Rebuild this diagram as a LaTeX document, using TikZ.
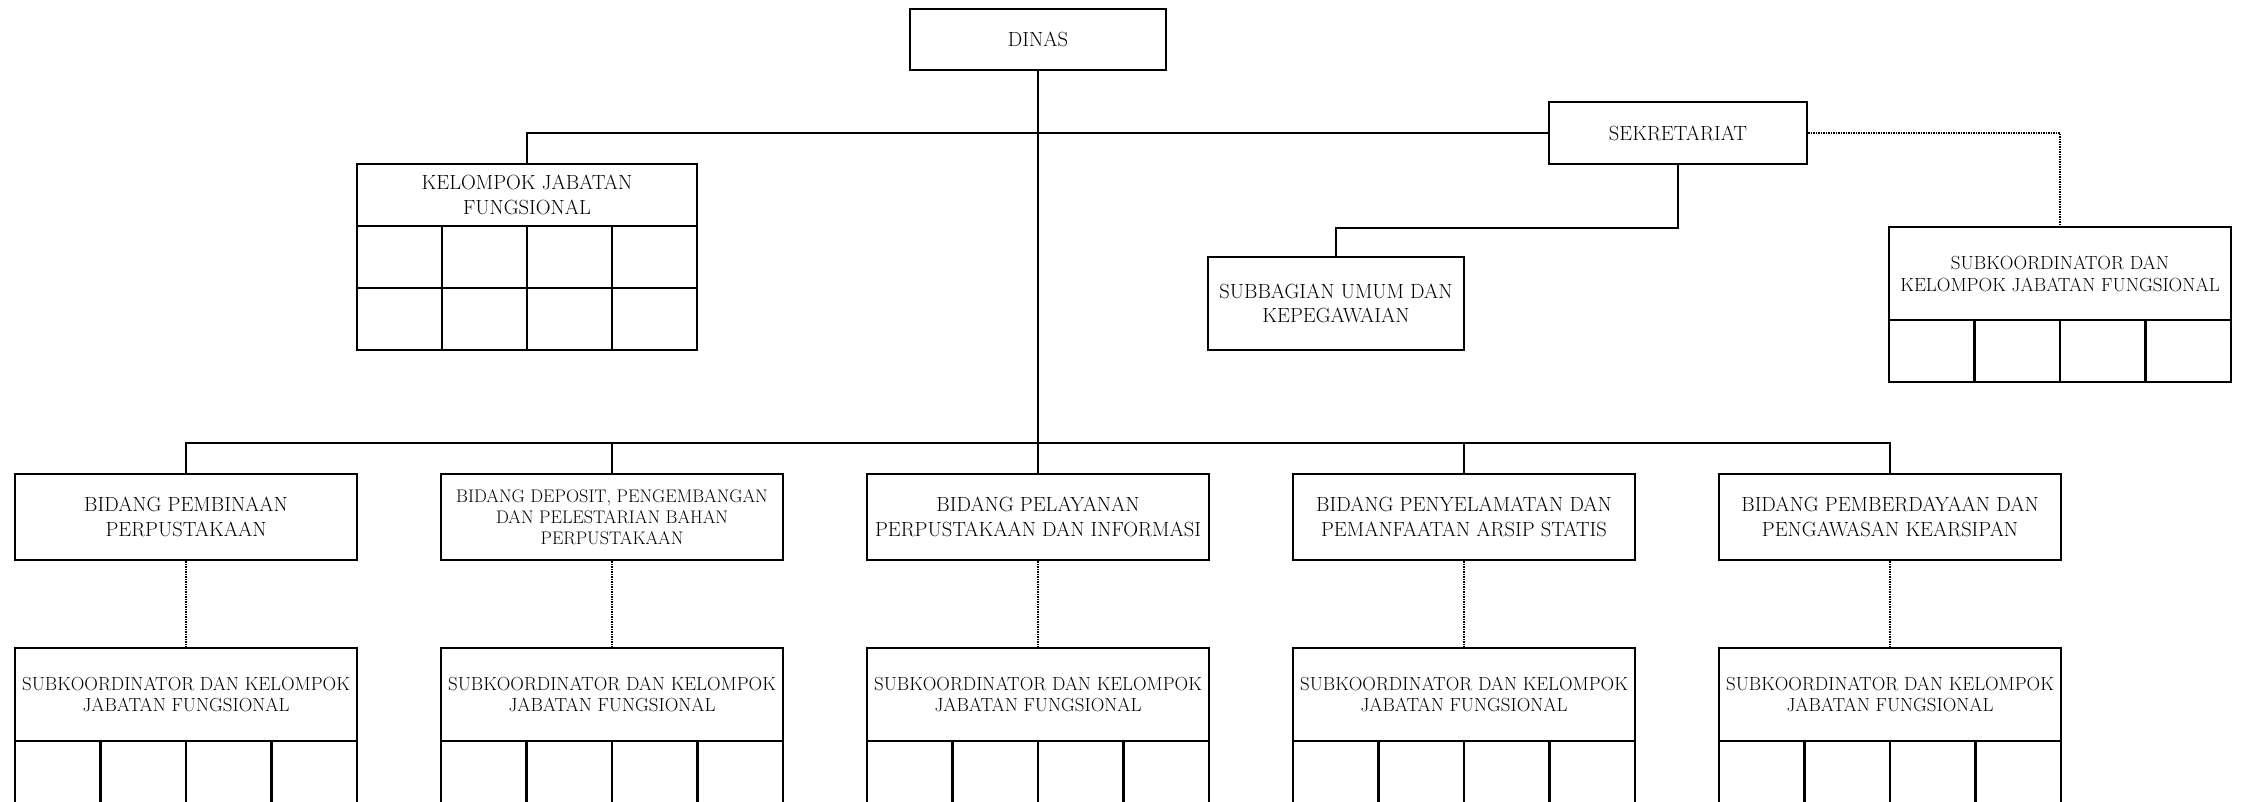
\documentclass[tikz,border=0pt]{standalone}

\begin{document}
\begin{tikzpicture}[x=1pt,y=-1pt,
    unit/.style={draw,line width=2.4pt,inner sep=0pt,align=center,
      font=\fontsize{20.5}{24.5}\selectfont},
    subunit/.style={unit,font=\fontsize{18.9}{21.5}\selectfont,
      minimum width=342pt,minimum height=93pt},
    cell/.style={draw,line width=2.4pt,inner sep=0pt,
      minimum width=85.5pt,minimum height=62pt},
    link/.style={line width=2pt},
    staff/.style={line width=1.3pt,dash pattern=on 1.5pt off 1pt}]

      \useasboundingbox (0,0) rectangle (2242,801);
      \clip (0,0) rectangle (2242,801);

      % pimpinan dan sekretariat
      \node[unit,minimum width=256pt,minimum height=61pt] (dinas) at (1038,39.5) {DINAS};
      \node[unit,minimum width=258pt,minimum height=62pt] (sek)   at (1678,133)  {SEKRETARIAT};
      \node[unit,minimum width=340pt,minimum height=62pt] (kjf)   at (527,195)   {KELOMPOK JABATAN\\FUNGSIONAL};
      \node[unit,minimum width=256pt,minimum height=93pt] (umum)  at (1336,303.5) {SUBBAGIAN UMUM DAN\\KEPEGAWAIAN};
      \node[subunit,font=\fontsize{19}{22}\selectfont] (sekjf) at (2060,273.5) {SUBKOORDINATOR DAN\\KELOMPOK JABATAN FUNGSIONAL};

      % bidang
      \begin{scope}[every node/.style={unit,minimum width=342pt,minimum height=86pt}]
        \node (b1) at (186,517)  {BIDANG PEMBINAAN\\PERPUSTAKAAN};
        \node[font=\fontsize{18.2}{21}\selectfont] (b2) at (612,517)
          {BIDANG DEPOSIT, PENGEMBANGAN\\DAN PELESTARIAN BAHAN\\PERPUSTAKAAN};
        \node (b3) at (1038,517) {BIDANG PELAYANAN\\PERPUSTAKAAN DAN INFORMASI};
        \node (b4) at (1464,517) {BIDANG PENYELAMATAN DAN\\PEMANFAATAN ARSIP STATIS};
        \node (b5) at (1890,517) {BIDANG PEMBERDAYAAN DAN\\PENGAWASAN KEARSIPAN};
      \end{scope}

      % subkoordinator
      \node[subunit] (s1) at (186,694.5)  {SUBKOORDINATOR DAN KELOMPOK\\JABATAN FUNGSIONAL};
      \node[subunit] (s2) at (612,694.5)  {SUBKOORDINATOR DAN KELOMPOK\\JABATAN FUNGSIONAL};
      \node[subunit] (s3) at (1038,694.5) {SUBKOORDINATOR DAN KELOMPOK\\JABATAN FUNGSIONAL};
      \node[subunit] (s4) at (1464,694.5) {SUBKOORDINATOR DAN KELOMPOK\\JABATAN FUNGSIONAL};
      \node[subunit] (s5) at (1890,694.5) {SUBKOORDINATOR DAN KELOMPOK\\JABATAN FUNGSIONAL};

      % kotak jabatan
      \begin{scope}[every node/.style={cell}]
        \node (kjf-1) at (399.5,257) {};
        \node (kjf-2) at (484.5,257) {};
        \node (kjf-3) at (569.5,257) {};
        \node (kjf-4) at (654.5,257) {};
        \node (kjf-5) at (399.5,319) {};
        \node (kjf-6) at (484.5,319) {};
        \node (kjf-7) at (569.5,319) {};
        \node (kjf-8) at (654.5,319) {};

        \node (sekjf-1) at (1931.75,351) {};
        \node (sekjf-2) at (2017.25,351) {};
        \node (sekjf-3) at (2102.75,351) {};
        \node (sekjf-4) at (2188.25,351) {};

        \node (s1-1) at (57.75,772)   {};
        \node (s1-2) at (143.25,772)  {};
        \node (s1-3) at (228.75,772)  {};
        \node (s1-4) at (314.25,772)  {};
        \node (s2-1) at (483.75,772)  {};
        \node (s2-2) at (569.25,772)  {};
        \node (s2-3) at (654.75,772)  {};
        \node (s2-4) at (740.25,772)  {};
        \node (s3-1) at (909.75,772)  {};
        \node (s3-2) at (995.25,772)  {};
        \node (s3-3) at (1080.75,772) {};
        \node (s3-4) at (1166.25,772) {};
        \node (s4-1) at (1335.75,772) {};
        \node (s4-2) at (1421.25,772) {};
        \node (s4-3) at (1506.75,772) {};
        \node (s4-4) at (1592.25,772) {};
        \node (s5-1) at (1761.75,772) {};
        \node (s5-2) at (1847.25,772) {};
        \node (s5-3) at (1932.75,772) {};
        \node (s5-4) at (2018.25,772) {};
      \end{scope}

      % garis komando
      \coordinate (bar) at (1038,443);
      \begin{scope}[link]
        \draw (dinas) -- (b3);
        \draw (kjf) |- (sek);
        \draw (sek.south) -- ++(0,63) -| (umum);
        \draw (b1) |- (bar) -| (b5);
        \draw (b2) -- (b2 |- bar);
        \draw (b4) -- (b4 |- bar);
      \end{scope}

      % garis koordinasi
      \begin{scope}[staff]
        \draw (sek) -| (sekjf);
        \draw (b1) -- (s1);
        \draw (b2) -- (s2);
        \draw (b3) -- (s3);
        \draw (b4) -- (s4);
        \draw (b5) -- (s5);
      \end{scope}

    \end{tikzpicture}
\end{document}
